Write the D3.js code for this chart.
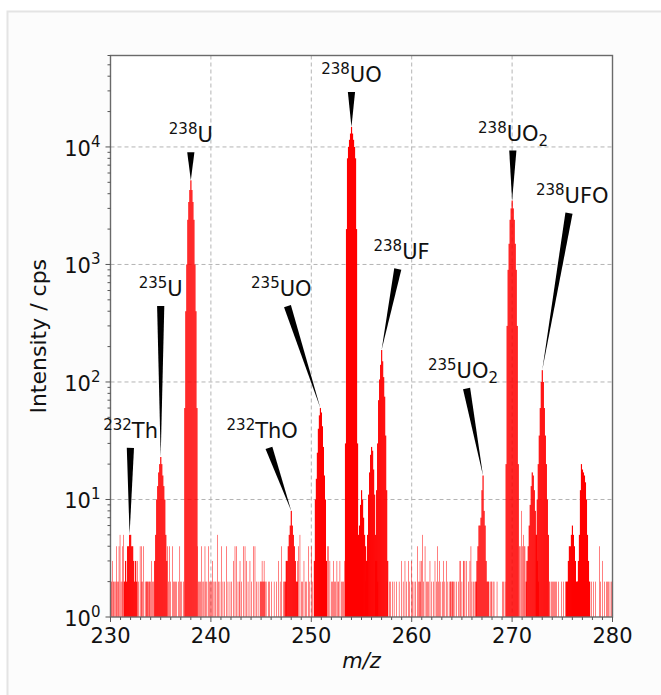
<!DOCTYPE html>
<html><head><meta charset="utf-8">
<script src="https://cdn.jsdelivr.net/npm/d3@7"></script>
<style>body{margin:0;background:#fff} svg{display:block}</style>
</head><body>
<svg id="chart" width="661" height="695"></svg>
<script>
// ---------------- data ----------------
const peakCenters = [232.0, 235.0, 238.0, 248.0, 250.9, 254.0, 255.0, 256.0, 257.0, 267.0, 270.0, 272.0, 273.0, 276.0, 277.1];
// counts sampled every 0.1 m/z from centre-0.6 to centre+0.6
const peakProfiles = [
  [2,3,2,4,4,5,5,4,4,3,2,3,2],
  [3,5,10,13,17,20,23,20,16,13,10,5,3],
  [60,400,1000,2400,3400,4300,5200,4300,3400,2400,1000,400,60],
  [2,3,3,4,5,6,8,6,5,4,3,2,2],
  [3,10,15,25,40,52,60,55,42,28,16,10,3],
  [30,2000,8000,10000,11500,13000,14800,13000,11500,10000,8000,2000,30],
  [3,4,4,5,6,9,12,10,7,5,4,3,3],
  [2,3,5,11,17,24,28,26,18,11,5,3,2],
  [3,12,30,70,105,140,187,150,110,75,35,12,3],
  [2,3,4,6,6,7,12,16,8,6,3,2,2],
  [20,300,900,1500,2400,3000,3500,3000,2400,1500,900,300,20],
  [2,3,4,6,9,13,17,16,12,8,5,3,2],
  [5,10,20,35,60,100,126,100,60,35,20,10,5],
  [2,2,3,4,4,5,6,5,4,3,2,2,2],
  [2,3,5,12,20,18,17,16,14,10,5,3,2]
];
const profileStep = 0.1;

const noiseMz = [
  230.0,230.05,230.1,230.2,230.3,230.35,230.45,230.55,230.6,230.7,230.8,230.85,230.95,231.05,231.15,231.2,231.3,231.35,
  232.7,232.8,232.95,233.05,233.1,233.2,233.3,233.45,233.55,233.6,233.65,233.7,233.8,233.85,233.9,234.0,234.1,234.2,234.3,
  235.7,235.8,235.9,236.0,236.15,236.25,236.35,236.45,236.6,236.75,236.9,237.0,237.1,237.25,
  238.65,238.75,238.85,238.95,239.08,239.2,239.3,239.41,239.5,239.6,239.74,239.85,239.97,240.05,240.17,240.3,240.41,240.5,240.64,240.75,240.9,
  241.07,241.2,241.35,241.57,241.7,241.9,242.05,242.23,242.4,242.56,242.7,242.83,242.9,243.05,243.23,243.4,243.56,243.7,243.89,
  244.05,244.22,244.39,244.55,244.7,244.9,244.95,245.0,245.05,245.1,245.15,245.2,245.25,245.3,245.35,245.4,245.5,245.72,245.85,
  246.05,246.3,246.55,246.71,246.9,247.05,247.21,247.35,247.54,
  248.6,248.71,248.87,249.0,249.1,249.27,249.4,249.55,249.7,249.85,250.03,250.15,250.3,
  251.6,251.7,251.85,252.0,252.1,252.2,252.3,252.4,252.55,252.65,252.7,252.85,253.0,253.1,253.2,253.3,
  254.65,254.7,
  257.6,257.77,257.9,258.1,258.25,258.5,258.75,259.0,259.15,259.33,259.5,259.67,259.8,260.0,260.1,260.23,260.4,260.56,260.65,260.75,260.83,260.9,
  261.0,261.1,261.2,261.33,261.45,261.56,261.7,261.82,262.0,262.16,262.32,262.45,262.55,262.65,262.75,262.9,263.05,263.15,263.3,263.48,263.6,
  263.8,263.85,263.9,264.0,264.05,264.1,264.15,264.3,264.45,264.65,264.8,264.88,265.0,265.14,265.2,265.3,265.48,265.64,265.8,265.9,266.0,266.13,266.3,266.47,
  267.65,267.8,267.9,267.97,268.1,268.2,268.5,269.06,269.12,269.3,
  270.72,270.8,270.95,271.05,271.12,271.2,271.28,271.4,
  273.7,273.77,273.9,274.0,274.1,274.2,274.3,274.43,274.6,274.93,275.1,275.3,275.5,
  277.75,277.9,278.09,278.3,278.68,278.8,279.02,279.2,279.41,279.5,279.6,279.75,279.9
];
const noiseCounts = [
  2,2,2,3,2,2,2,2,4,2,2,4,5,2,2,4,5,2,
  3,2,4,2,4,2,4,2,2,2,2,2,2,2,2,2,3,2,2,
  4,2,4,2,4,2,2,2,2,2,4,2,2,2,
  4,2,2,2,4,2,2,4,2,2,4,2,2,2,3,2,2,2,5,2,2,
  4,2,2,4,2,2,2,3,4,4,2,2,3,2,4,4,3,2,3,
  2,4,4,2,2,2,2,2,2,3,2,2,2,3,2,2,2,2,2,
  2,2,2,3,2,4,2,2,3,
  3,4,5,2,2,3,2,2,4,2,4,2,2,
  4,4,3,2,2,3,2,2,3,2,2,3,2,2,2,3,
  4,3,
  2,2,2,2,2,2,2,3,2,3,2,3,2,3,2,2,2,4,2,2,3,2,
  3,5,2,4,2,2,2,3,2,2,3,2,4,2,3,2,2,3,2,3,2,
  2,2,2,2,2,2,2,2,2,2,3,3,2,3,3,3,3,2,3,4,2,2,2,2,
  2,2,2,2,2,2,2,2,2,2,
  4,4,8,4,5,4,4,3,
  2,2,2,2,2,2,2,2,2,2,2,2,2,
  2,2,2,2,4,2,3,2,2,2,2,2,2
];
const noiseStep = 0.05;

const xTickValues = [230, 240, 250, 260, 270, 280];
const yTickExponents = [0, 1, 2, 3, 4];

const labelMass = ['232','235','238','232','235','238','238','235','238','238'];
const labelSpecies = ['Th','U','U','ThO','UO','UO','UF','UO','UO','UFO'];
const labelSub = ['','','','','','','','2','2',''];
const labelPeak = [0, 1, 2, 3, 4, 5, 8, 9, 10, 12];

// ---------------- layout (pixels) ----------------
const labelOffsets = [[1,-97],[0,-161],[0,-38],[-29,-73],[-39,-112],[0,-45],[20,-91],[-20,-97],[1,-60],[30,-167]];
const W = 661, H = 695;
const plot = {left: 110.5, right: 612.5, top: 55.5, bottom: 617};
const FONT = "'DejaVu Sans', sans-serif";

const svg = d3.select('#chart');
svg.append('rect').attr('x',0).attr('y',0).attr('width',W).attr('height',H).attr('fill','#fff');
svg.append('rect').attr('x',7.5).attr('y',11.5).attr('width',W+20).attr('height',H+20)
  .attr('fill','#fcfcfc').attr('stroke','#e4e4e4').attr('stroke-width',2);

const x = d3.scaleLinear().domain([230, 280]).range([plot.left, plot.right]);
const y = d3.scaleLog().domain([1, 6e4]).range([plot.bottom, plot.top]);

svg.append('rect').attr('x',plot.left).attr('y',plot.top)
  .attr('width',plot.right-plot.left).attr('height',plot.bottom-plot.top).attr('fill','#fff');

svg.append('clipPath').attr('id','clip').append('rect')
  .attr('x',plot.left).attr('y',plot.top).attr('width',plot.right-plot.left).attr('height',plot.bottom-plot.top);

// grid
const grid = svg.append('g').attr('stroke','#b4b4b4').attr('stroke-width',1).attr('stroke-dasharray','4,3');
xTickValues.slice(1,-1).forEach(v => grid.append('line').attr('x1',x(v)).attr('x2',x(v)).attr('y1',plot.top).attr('y2',plot.bottom));
yTickExponents.slice(1).forEach(e => grid.append('line').attr('x1',plot.left).attr('x2',plot.right).attr('y1',y(Math.pow(10,e))).attr('y2',y(Math.pow(10,e))));

// bars
const bars = svg.append('g').attr('clip-path','url(#clip)').attr('fill','#ff0000');
const noiseData = noiseMz.map((m,i) => ({mz:m, c:noiseCounts[i]}));
bars.selectAll('rect.n').data(noiseData).enter().append('rect').attr('class','n')
  .attr('x', d => x(d.mz - noiseStep/2)).attr('width', d => x(d.mz + noiseStep/2) - x(d.mz - noiseStep/2))
  .attr('y', d => y(d.c)).attr('height', d => y(1) - y(d.c));
const peakData = [];
peakCenters.forEach((c, p) => peakProfiles[p].forEach((v, k) => peakData.push({mz: c + (k-6)*profileStep, c: v})));
bars.selectAll('rect.p').data(peakData).enter().append('rect').attr('class','p')
  .attr('x', d => x(d.mz - profileStep/2)).attr('width', d => x(d.mz + profileStep/2) - x(d.mz - profileStep/2) + 0.15)
  .attr('y', d => y(d.c)).attr('height', d => y(1) - y(d.c));

// frame
svg.append('rect').attr('x',plot.left).attr('y',plot.top)
  .attr('width',plot.right-plot.left).attr('height',plot.bottom-plot.top)
  .attr('fill','none').attr('stroke','#6a6a6a').attr('stroke-width',1.4);

// x axis ticks
const ax = svg.append('g').attr('stroke','#555').attr('stroke-width',1);
d3.range(230, 281, 1).forEach(v => {
  const major = xTickValues.includes(v);
  ax.append('line').attr('x1',x(v)).attr('x2',x(v)).attr('y1',plot.bottom).attr('y2',plot.bottom + (major?5:3));
});
xTickValues.forEach(v => svg.append('text').attr('x',x(v)).attr('y',plot.bottom+26)
  .attr('text-anchor','middle').attr('font-family',FONT).attr('font-size',21).attr('fill','#111').text(v));

// y axis ticks
yTickExponents.concat([5]).forEach(e => {
  for (let m = 1; m <= 9; m++) {
    const v = m * Math.pow(10, e);
    if (v < 1 || v > 6e4) continue;
    ax.append('line').attr('x1',plot.left).attr('x2',plot.left - (m===1?5:3)).attr('y1',y(v)).attr('y2',y(v));
  }
});
yTickExponents.forEach(e => {
  const t = svg.append('text').attr('x',plot.left-10).attr('y',y(Math.pow(10,e))+9)
    .attr('text-anchor','end').attr('font-family',FONT).attr('fill','#111');
  t.append('tspan').attr('font-size',21).text('10');
  t.append('tspan').attr('font-size',15).attr('dy',-9).text(e);
});

// axis labels
svg.append('text').attr('transform',`translate(46,${(plot.top+plot.bottom)/2}) rotate(-90)`)
  .attr('text-anchor','middle').attr('font-family',FONT).attr('font-size',22).attr('fill','#111').text('Intensity / cps');
svg.append('text').attr('x',(plot.left+plot.right)/2).attr('y',668).attr('text-anchor','middle')
  .attr('font-family',FONT).attr('font-size',21).attr('font-style','italic').attr('fill','#111').text('m/z');

// annotations
const ann = svg.append('g');
labelPeak.forEach((p, i) => {
  const prof = peakProfiles[p];
  const k = prof.indexOf(d3.max(prof));
  const tipX = x(peakCenters[p] + (k-6)*profileStep), tipY = y(prof[k]);
  const cx = tipX + labelOffsets[i][0], base = tipY + labelOffsets[i][1];
  const cy = base - 9;
  const by = base + 10;
  const t = (tipY - by) / (tipY - cy);
  const bx = tipX + t * (cx - tipX);
  const dx = tipX - bx, dy = tipY - by, len = Math.hypot(dx, dy);
  const nx = -dy/len*3.6, ny = dx/len*3.6;
  ann.append('path').attr('d', `M${bx+nx},${by+ny}L${bx-nx},${by-ny}L${tipX},${tipY}Z`).attr('fill','#000');
  const tx = ann.append('text').attr('x',cx).attr('y',base).attr('text-anchor','middle')
    .attr('font-family',FONT).attr('fill','#111');
  tx.append('tspan').attr('font-size',15).attr('dy',-8).text(labelMass[i]);
  tx.append('tspan').attr('font-size',21).attr('dy',8).text(labelSpecies[i]);
  if (labelSub[i]) tx.append('tspan').attr('font-size',15).attr('dy',5).text(labelSub[i]);
});
</script>
</body></html>
